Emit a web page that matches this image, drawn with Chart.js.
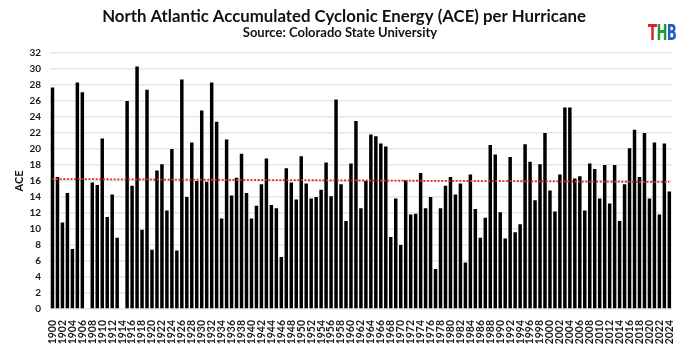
<!DOCTYPE html>
<html>
<head>
<meta charset="utf-8">
<script src="https://cdn.jsdelivr.net/npm/chart.js@4/dist/chart.umd.min.js"></script>
<style>
  html, body { margin: 0; padding: 0; background: #fff; }
  canvas { display: block; }
</style>
</head>
<body>
<canvas id="ace" width="685" height="345"></canvas>
<script>
// ACE per hurricane, one value per season (null = no hurricanes that year)
const firstYear = 1900;
const lastYear = 2024;
const years = Array.from({ length: lastYear - firstYear + 1 }, (_, i) => String(firstYear + i));

const acePerHurricane = [
  27.7, 16.5, 10.8, 14.5, 7.5, 28.3, 27.1, null, 15.8, 15.5,   // 1900s
  21.3, 11.5, 14.3, 8.9, null, 26.0, 15.4, 30.3, 9.9, 27.4,    // 1910s
  7.4, 17.3, 18.1, 12.3, 20.0, 7.3, 28.7, 14.0, 20.8, 16.0,    // 1920s
  24.8, 15.9, 28.3, 23.4, 11.3, 21.2, 14.2, 16.4, 19.4, 14.5,  // 1930s
  11.3, 12.9, 15.6, 18.8, 13.0, 12.6, 6.5, 17.6, 15.8, 13.7,   // 1940s
  19.1, 15.7, 13.8, 14.0, 14.9, 18.3, 14.1, 26.2, 15.6, 11.0,  // 1950s
  18.2, 23.5, 12.6, 16.0, 21.8, 21.6, 20.7, 20.3, 9.0, 13.8,   // 1960s
  8.0, 16.1, 11.8, 11.9, 17.0, 12.6, 14.0, 5.0, 12.6, 15.4,    // 1970s
  16.5, 14.3, 15.7, 5.8, 16.8, 12.5, 8.9, 11.4, 20.5, 19.3,    // 1980s
  12.1, 8.8, 19.0, 9.6, 10.6, 20.6, 18.4, 13.6, 18.1, 22.0,    // 1990s
  14.8, 12.2, 16.8, 25.2, 25.2, 16.3, 16.6, 12.3, 18.2, 17.5,  // 2000s
  13.8, 18.0, 13.2, 18.0, 11.0, 15.6, 20.1, 22.4, 16.5, 22.0,  // 2010s
  13.8, 20.8, 11.8, 20.7, 14.7                                 // 2020s
];

// linear trend, value at the first and last season
const trendEnds = [16.25, 15.88];
const trendLine = years.map((_, i) =>
  i === 0 ? trendEnds[0] : i === years.length - 1 ? trendEnds[1] : null
);

const yTicks = { min: 0, max: 32, step: 2 };

const TITLE = "North Atlantic Accumulated Cyclonic Energy (ACE) per Hurricane";
const SUBTITLE = "Source: Colorado State University";
const LOGO = [
  { ch: "T", color: "#e0202a" },
  { ch: "H", color: "#1f9a3c" },
  { ch: "B", color: "#1f5cc4" },
];

const FONT = "Lato, 'Open Sans', sans-serif";

// title, subtitle and the little THB mark
const headerPlugin = {
  id: "header",
  afterDraw(chart) {
    const { ctx } = chart;
    ctx.save();
    ctx.fillStyle = "#111";
    ctx.textAlign = "center";
    ctx.textBaseline = "alphabetic";
    ctx.font = "bold 16.8px " + FONT;
    ctx.fillText(TITLE, 344, 22);
    ctx.font = "bold 13px " + FONT;
    ctx.fillText(SUBTITLE, 340, 37);

    ctx.translate(648, 40);
    ctx.scale(0.6, 1);
    ctx.textAlign = "left";
    ctx.font = "bold 22px 'DejaVu Sans', sans-serif";
    let x = 0;
    LOGO.forEach((l) => {
      ctx.fillStyle = l.color;
      ctx.fillText(l.ch, x, 0);
      x += ctx.measureText(l.ch).width - 1;
    });
    ctx.restore();
  },
};

new Chart(document.getElementById("ace"), {
  type: "bar",
  data: {
    labels: years,
    datasets: [
      {
        type: "line",
        data: trendLine,
        spanGaps: true,
        borderColor: "#e8242a",
        borderWidth: 1.8,
        borderDash: [2, 1.6],
        pointRadius: 0,
        order: 0,
      },
      {
        data: acePerHurricane,
        backgroundColor: "#000",
        borderWidth: 0,
        barPercentage: 0.7,
        categoryPercentage: 1.0,
        order: 1,
      },
    ],
  },
  options: {
    responsive: false,
    animation: false,
    layout: { padding: { top: 53, right: 12, left: 0, bottom: 0 } },
    plugins: {
      legend: { display: false },
      tooltip: { enabled: false },
    },
    scales: {
      x: {
        grid: { display: false },
        border: { display: false },
        ticks: {
          autoSkip: false,
          minRotation: 90,
          maxRotation: 90,
          padding: 3,
          color: "#1a1a1a",
          font: { family: FONT, size: 10.5, weight: "bold" },
          callback: (val, i) => (i % 2 === 0 ? years[i] : ""),
        },
        afterFit: (scale) => { scale.height = 36; },
      },
      y: {
        min: yTicks.min,
        max: yTicks.max,
        grid: { color: "#e6e6e6", lineWidth: 1.5, drawTicks: false },
        border: { display: false },
        ticks: {
          stepSize: yTicks.step,
          padding: 9,
          color: "#1a1a1a",
          font: { family: FONT, size: 10, weight: "bold" },
        },
        title: {
          display: true,
          text: "ACE",
          color: "#111",
          padding: { top: 13, bottom: 0 },
          font: { family: FONT, size: 11, weight: "bold" },
        },
        afterFit: (scale) => { scale.width = 50; },
      },
    },
  },
  plugins: [headerPlugin],
});
</script>
</body>
</html>
